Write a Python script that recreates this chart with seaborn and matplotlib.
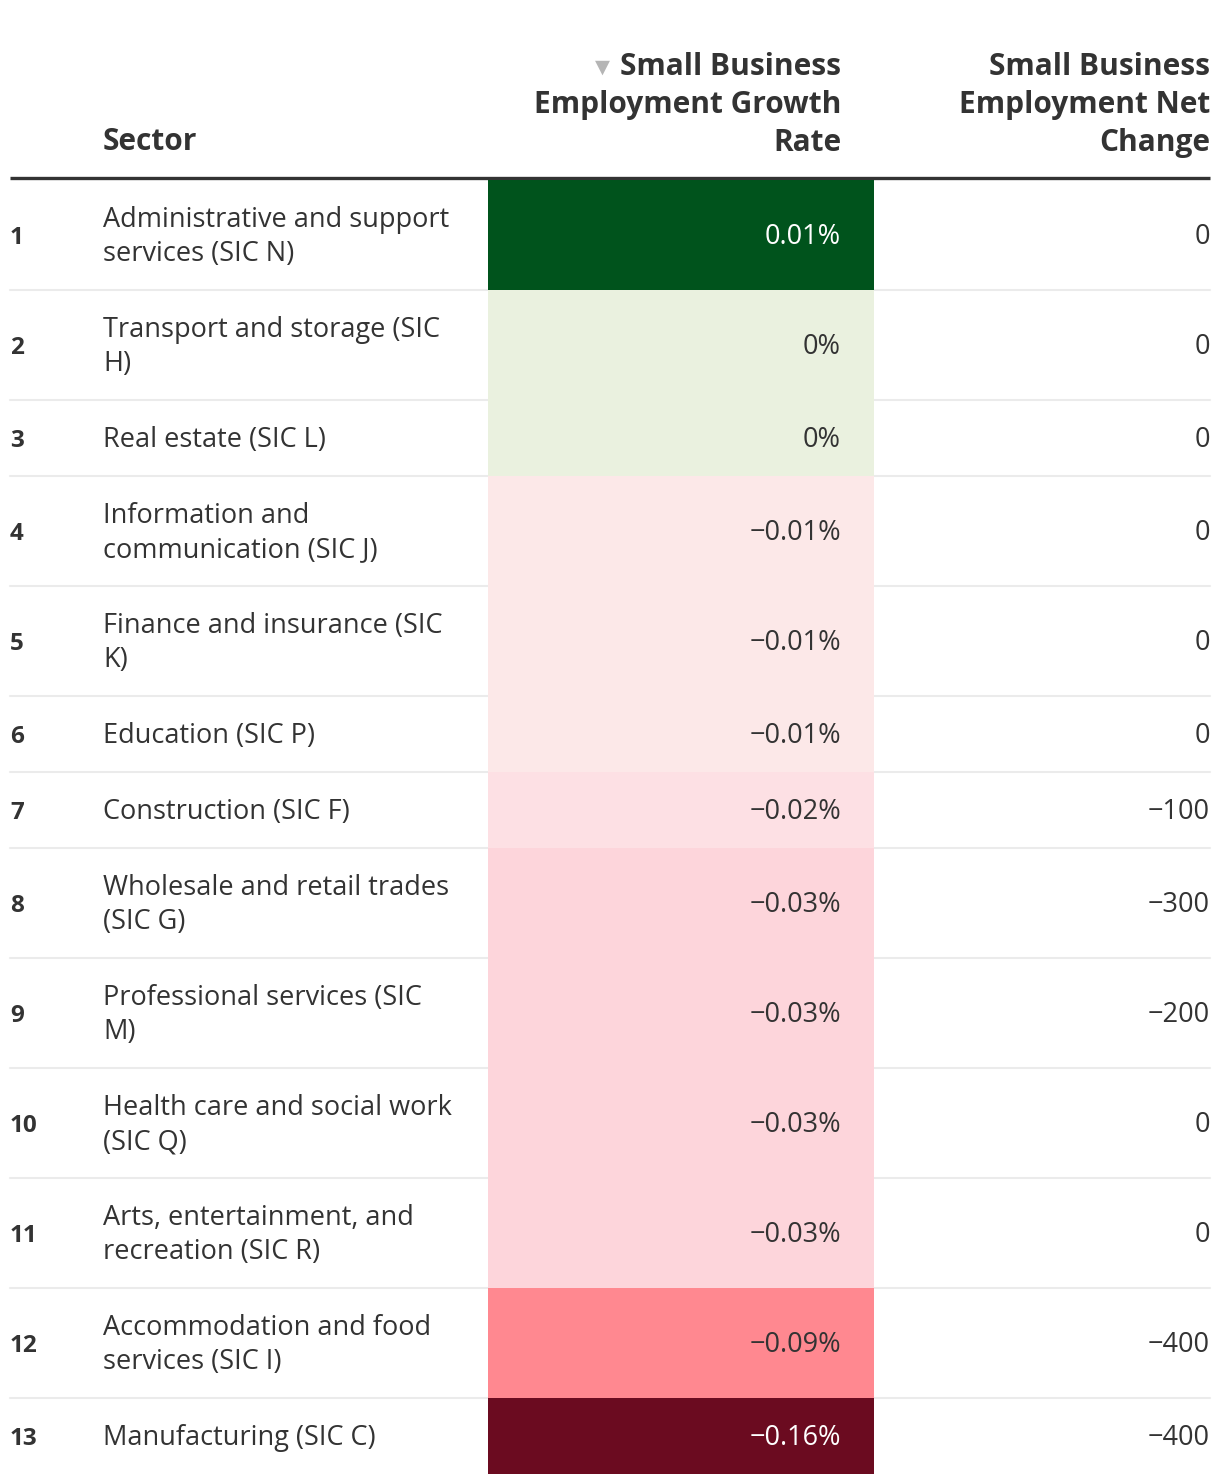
import textwrap
import numpy as np
import matplotlib
matplotlib.use("Agg")
import matplotlib.pyplot as plt
from matplotlib.colors import ListedColormap, BoundaryNorm
import seaborn as sns

sectors = [
    "Administrative and support services (SIC N)",
    "Transport and storage (SIC H)",
    "Real estate (SIC L)",
    "Information and communication (SIC J)",
    "Finance and insurance (SIC K)",
    "Education (SIC P)",
    "Construction (SIC F)",
    "Wholesale and retail trades (SIC G)",
    "Professional services (SIC M)",
    "Health care and social work (SIC Q)",
    "Arts, entertainment, and recreation (SIC R)",
    "Accommodation and food services (SIC I)",
    "Manufacturing (SIC C)",
]
growth_rate = [0.01, 0, 0, -0.01, -0.01, -0.01, -0.02, -0.03, -0.03, -0.03, -0.03, -0.09, -0.16]
net_change = [0, 0, 0, 0, 0, 0, -100, -300, -200, 0, 0, -400, -400]

headers = ["Sector", "Small Business\nEmployment Growth\nRate", "Small Business\nEmployment Net\nChange"]

sns.set_theme(style="white")
plt.rcParams["font.family"] = ["Open Sans", "DejaVu Sans"]

TXT = "#333333"
HEAD_FS = 21.5
BODY_FS = 19.5
cell_colors = ["#6b0b20", "#ff8890", "#fdd5db", "#fde0e4", "#fce8e8", "#eaf1df", "#00531c"]
cmap = ListedColormap(sns.color_palette(cell_colors))
norm = BoundaryNorm([-0.2, -0.12, -0.06, -0.025, -0.015, -0.005, 0.005, 0.02], cmap.N)

fig = plt.figure(figsize=(12.2, 14.82), dpi=100)
ax = fig.add_axes([0, 0, 1, 1])
ax.set_xlim(0, 1220)
ax.set_ylim(1482, 0)
ax.axis("off")

# header
ax.text(103, 142, headers[0], ha="left", va="center", fontsize=HEAD_FS, fontweight="bold", color=TXT)
for j, line in enumerate(headers[1].split("\n")):
    ax.text(841, 67 + 38 * j, line, ha="right", va="center", fontsize=HEAD_FS, fontweight="bold", color=TXT)
for j, line in enumerate(headers[2].split("\n")):
    ax.text(1210, 67 + 38 * j, line, ha="right", va="center", fontsize=HEAD_FS, fontweight="bold", color=TXT)
ax.text(602, 67, "\u25BC", ha="center", va="center", fontsize=14, color="#b5b5b5",
        family=["DejaVu Sans"])
ax.plot([10, 1210], [178, 178], color=TXT, lw=2.4, solid_capstyle="butt")

# rows
wrapped = [textwrap.wrap(s, 27) for s in sectors]
heights = [76 + 34 * (len(w) - 1) for w in wrapped]
edges = 180 + np.concatenate([[0], np.cumsum(heights)])

ax.pcolormesh([488, 874], edges, np.array(growth_rate)[:, None], cmap=cmap, norm=norm, zorder=2)

for i, (lines, g, n) in enumerate(zip(wrapped, growth_rate, net_change)):
    top, bot = edges[i], edges[i + 1]
    mid = (top + bot) / 2 + 2
    if i < len(sectors) - 1:
        ax.plot([10, 1210], [bot, bot], color="#ebebeb", lw=1.5, zorder=1)
    ax.text(10, mid + 1, str(i + 1), ha="left", va="center", fontsize=17.5, fontweight="bold", color=TXT)
    for k, line in enumerate(lines):
        y = mid + 34 * (k - (len(lines) - 1) / 2)
        ax.text(103, y, line, ha="left", va="center", fontsize=BODY_FS, color=TXT)
    r, gg, b, _ = cmap(norm(g))
    lum = 0.299 * r + 0.587 * gg + 0.114 * b
    gtxt = f"{g:g}%".replace("-", "\u2212")
    ax.text(841, mid, gtxt, ha="right", va="center", fontsize=BODY_FS,
            color="white" if lum < 0.5 else TXT, zorder=3)
    ax.text(1210, mid, f"{n:d}".replace("-", "\u2212"), ha="right", va="center",
            fontsize=BODY_FS, color=TXT)

fig.savefig("out.png", dpi=100, facecolor="white")
